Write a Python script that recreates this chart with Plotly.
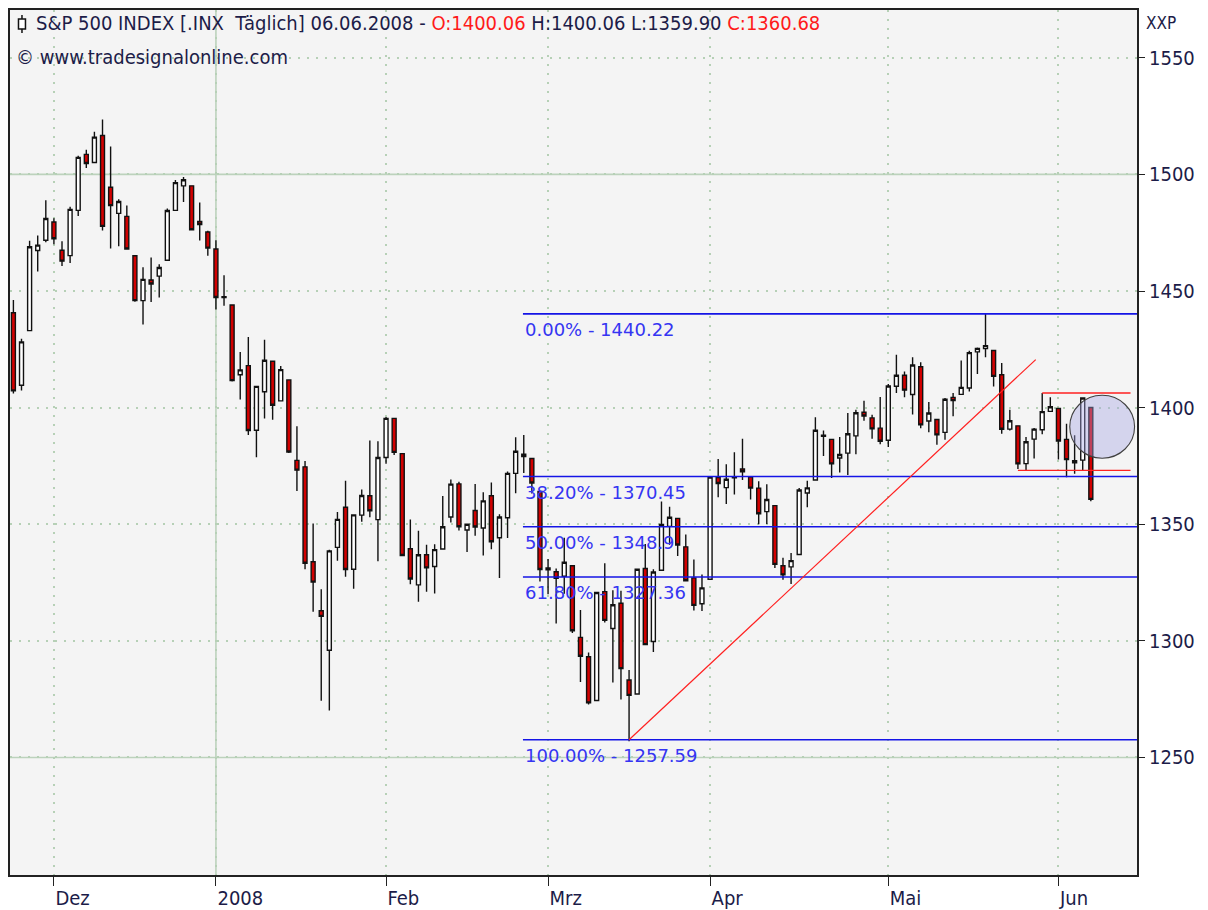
import plotly.graph_objects as go

# ---------------- data (S&P 500 daily) ----------------
dates = [
    "2007-11-26", "2007-11-27", "2007-11-28", "2007-11-29", "2007-11-30",
    "2007-12-03", "2007-12-04", "2007-12-05", "2007-12-06", "2007-12-07",
    "2007-12-10", "2007-12-11", "2007-12-12", "2007-12-13", "2007-12-14",
    "2007-12-17", "2007-12-18", "2007-12-19", "2007-12-20", "2007-12-21",
    "2007-12-24", "2007-12-26", "2007-12-27", "2007-12-28", "2007-12-31",
    "2008-01-02", "2008-01-03", "2008-01-04", "2008-01-07", "2008-01-08",
    "2008-01-09", "2008-01-10", "2008-01-11", "2008-01-14", "2008-01-15",
    "2008-01-16", "2008-01-17", "2008-01-18", "2008-01-22", "2008-01-23",
    "2008-01-24", "2008-01-25", "2008-01-28", "2008-01-29", "2008-01-30",
    "2008-01-31",
    "2008-02-01", "2008-02-04", "2008-02-05", "2008-02-06", "2008-02-07",
    "2008-02-08", "2008-02-11", "2008-02-12", "2008-02-13", "2008-02-14",
    "2008-02-15", "2008-02-19", "2008-02-20", "2008-02-21", "2008-02-22",
    "2008-02-25", "2008-02-26", "2008-02-27", "2008-02-28", "2008-02-29",
    "2008-03-03", "2008-03-04", "2008-03-05", "2008-03-06", "2008-03-07",
    "2008-03-10", "2008-03-11", "2008-03-12", "2008-03-13", "2008-03-14",
    "2008-03-17", "2008-03-18", "2008-03-19", "2008-03-20", "2008-03-24",
    "2008-03-25", "2008-03-26", "2008-03-27", "2008-03-28", "2008-03-31",
    "2008-04-01", "2008-04-02", "2008-04-03", "2008-04-04", "2008-04-07",
    "2008-04-08", "2008-04-09", "2008-04-10", "2008-04-11", "2008-04-14",
    "2008-04-15", "2008-04-16", "2008-04-17", "2008-04-18", "2008-04-21",
    "2008-04-22", "2008-04-23", "2008-04-24", "2008-04-25", "2008-04-28",
    "2008-04-29", "2008-04-30",
    "2008-05-01", "2008-05-02", "2008-05-05", "2008-05-06", "2008-05-07",
    "2008-05-08", "2008-05-09", "2008-05-12", "2008-05-13", "2008-05-14",
    "2008-05-15", "2008-05-16", "2008-05-19", "2008-05-20", "2008-05-21",
    "2008-05-22", "2008-05-23", "2008-05-27", "2008-05-28", "2008-05-29",
    "2008-05-30",
    "2008-06-02", "2008-06-03", "2008-06-04", "2008-06-05", "2008-06-06",
]

opens = [
    1440.7, 1409.6, 1433.0, 1467.4, 1471.8,
    1479.6, 1467.5, 1465.2, 1484.6, 1508.6,
    1505.1, 1516.7, 1494.5, 1483.3, 1482.0,
    1465.1, 1445.9, 1454.7, 1456.4, 1463.2,
    1484.6, 1495.1, 1495.1, 1479.8, 1475.3,
    1468.0, 1447.6, 1444.0, 1414.1, 1418.0,
    1390.3, 1406.8, 1419.9, 1402.9, 1411.9,
    1377.4, 1374.6, 1333.9, 1312.9, 1296.0,
    1340.1, 1357.3, 1330.7, 1353.9, 1362.2,
    1352.0,
    1378.6, 1395.4, 1380.3, 1339.5, 1324.0,
    1336.9, 1331.9, 1339.4, 1353.1, 1367.3,
    1347.5, 1355.9, 1348.4, 1362.2, 1344.2,
    1352.8, 1371.8, 1379.0, 1378.2, 1364.1,
    1330.5, 1329.6, 1327.7, 1332.2, 1301.5,
    1293.2, 1274.4, 1321.1, 1305.3, 1316.1,
    1283.2, 1277.2, 1331.0, 1299.7, 1330.3,
    1349.1, 1352.5, 1340.3, 1327.0, 1315.9,
    1326.4, 1370.0, 1365.7, 1369.9, 1373.7,
    1370.2, 1365.5, 1355.4, 1358.0, 1332.2,
    1331.7, 1337.0, 1363.4, 1369.0, 1387.7,
    1386.4, 1378.4, 1380.5, 1387.9, 1398.0,
    1395.6, 1391.2,
    1386.0, 1409.2, 1413.9, 1405.6, 1417.5,
    1394.3, 1394.9, 1389.4, 1404.4, 1405.7,
    1408.4, 1423.9, 1425.3, 1424.5, 1414.1,
    1390.8, 1392.2, 1376.0, 1386.5, 1390.5,
    1398.4,
    1399.6, 1386.4, 1376.3, 1377.5, 1400.06,
]

highs = [
    1446.1, 1429.5, 1471.6, 1473.8, 1488.9,
    1481.2, 1471.3, 1486.1, 1508.0, 1510.6,
    1518.3, 1523.6, 1512.0, 1489.4, 1486.7,
    1465.1, 1460.2, 1464.4, 1461.5, 1485.4,
    1497.6, 1498.9, 1495.1, 1488.0, 1475.8,
    1471.8, 1456.8, 1444.0, 1423.9, 1430.3,
    1409.2, 1429.1, 1419.9, 1417.9, 1411.9,
    1392.0, 1377.1, 1350.3, 1322.1, 1339.1,
    1355.2, 1368.6, 1354.0, 1364.9, 1385.9,
    1385.6,
    1396.0, 1395.4, 1380.3, 1352.0, 1347.2,
    1341.2, 1341.4, 1362.1, 1369.2, 1368.2,
    1350.0, 1367.3, 1363.7, 1367.9, 1354.3,
    1372.6, 1387.3, 1388.3, 1378.2, 1364.1,
    1335.1, 1331.0, 1344.2, 1332.2, 1313.2,
    1295.0, 1320.7, 1333.3, 1321.7, 1321.5,
    1287.5, 1330.7, 1341.5, 1330.7, 1359.7,
    1357.5, 1352.5, 1345.6, 1334.9, 1328.5,
    1370.2, 1378.0, 1375.7, 1380.9, 1386.7,
    1370.2, 1368.4, 1367.2, 1358.0, 1335.6,
    1337.7, 1365.5, 1368.6, 1395.9, 1390.2,
    1386.4, 1387.4, 1397.7, 1399.1, 1402.9,
    1397.0, 1404.6,
    1410.1, 1422.7, 1415.5, 1421.6, 1419.5,
    1402.4, 1394.9, 1404.1, 1406.3, 1420.2,
    1424.4, 1425.8, 1440.2, 1424.5, 1419.1,
    1399.1, 1392.2, 1387.4, 1391.3, 1406.3,
    1404.5,
    1399.6, 1393.1, 1388.2, 1404.1, 1400.06,
]

lows = [
    1406.1, 1407.4, 1433.0, 1458.4, 1470.9,
    1470.1, 1460.7, 1462.0, 1482.2, 1502.7,
    1505.0, 1476.0, 1468.2, 1469.2, 1467.8,
    1445.4, 1435.7, 1445.3, 1447.2, 1463.2,
    1484.6, 1488.2, 1475.9, 1471.7, 1465.1,
    1442.1, 1443.7, 1411.2, 1403.5, 1388.3,
    1378.7, 1395.3, 1394.8, 1402.9, 1380.6,
    1364.3, 1330.7, 1312.5, 1274.3, 1270.1,
    1334.3, 1327.5, 1322.3, 1351.1, 1353.0,
    1334.1,
    1375.9, 1379.7, 1336.6, 1324.3, 1316.8,
    1321.1, 1320.3, 1339.4, 1350.8, 1347.3,
    1338.1, 1345.1, 1336.6, 1339.3, 1327.0,
    1344.1, 1363.3, 1372.0, 1363.2, 1325.4,
    1320.0, 1307.4, 1320.2, 1303.4, 1282.4,
    1272.7, 1274.4, 1307.9, 1282.1, 1274.9,
    1257.0, 1277.2, 1298.4, 1295.2, 1330.3,
    1341.2, 1336.4, 1325.7, 1313.0, 1312.8,
    1326.4, 1361.6, 1358.7, 1362.8, 1369.0,
    1360.6, 1350.0, 1350.1, 1331.2, 1326.2,
    1324.4, 1337.0, 1357.3, 1369.0, 1379.3,
    1369.8, 1372.2, 1371.1, 1380.0, 1394.4,
    1386.7, 1384.3,
    1383.1, 1406.3, 1404.4, 1397.1, 1391.2,
    1389.4, 1384.1, 1386.2, 1396.3, 1405.7,
    1406.9, 1414.4, 1421.6, 1409.1, 1388.8,
    1390.2, 1373.7, 1373.1, 1378.2, 1388.6,
    1398.1,
    1377.8, 1370.1, 1371.7, 1373.1, 1359.90,
]

closes = [
    1407.2, 1428.2, 1469.0, 1469.7, 1481.1,
    1472.4, 1462.8, 1485.0, 1507.3, 1504.7,
    1516.0, 1477.7, 1486.6, 1488.4, 1468.0,
    1445.9, 1455.0, 1453.0, 1460.1, 1484.5,
    1496.5, 1497.7, 1476.3, 1478.5, 1468.4,
    1447.2, 1447.2, 1411.6, 1416.2, 1390.2,
    1409.1, 1420.3, 1401.0, 1416.3, 1381.0,
    1373.2, 1333.3, 1325.2, 1310.5, 1338.6,
    1352.1, 1330.6, 1354.0, 1362.3, 1355.8,
    1378.6,
    1395.4, 1380.8, 1336.6, 1326.5, 1336.9,
    1331.3, 1339.1, 1348.9, 1367.2, 1348.9,
    1350.0, 1348.8, 1360.0, 1342.5, 1353.1,
    1371.8, 1381.3, 1380.0, 1367.7, 1330.6,
    1331.3, 1326.8, 1333.7, 1304.3, 1293.4,
    1273.4, 1320.7, 1308.8, 1315.5, 1288.1,
    1276.6, 1330.7, 1298.4, 1329.5, 1349.9,
    1353.0, 1341.1, 1325.8, 1315.2, 1322.7,
    1370.2, 1367.5, 1369.3, 1370.4, 1372.5,
    1365.5, 1354.5, 1360.6, 1332.8, 1328.3,
    1334.4, 1364.7, 1365.6, 1390.3, 1388.2,
    1375.9, 1379.9, 1388.8, 1397.8, 1396.4,
    1390.9, 1385.6,
    1409.3, 1413.9, 1407.5, 1418.3, 1392.6,
    1397.7, 1388.3, 1403.6, 1403.0, 1408.7,
    1423.6, 1425.4, 1426.6, 1413.4, 1390.7,
    1394.4, 1375.9, 1385.4, 1390.8, 1398.3,
    1400.4,
    1385.7, 1377.7, 1377.2, 1404.1, 1360.68,
]

month_starts = ["2007-12-03", "2008-01-02", "2008-02-01", "2008-03-03",
                "2008-04-01", "2008-05-01", "2008-06-02"]
month_labels = ["Dez", "2008", "Feb", "Mrz", "Apr", "Mai", "Jun"]

y_ticks = [1250, 1300, 1350, 1400, 1450, 1500, 1550]
y_solid_grid = [1500, 1250]
year_start = "2008-01-02"

fib_start_date = "2008-02-27"
fib_pcts = ["0.00%", "38.20%", "50.00%", "61.80%", "100.00%"]
fib_values = [1440.22, 1370.45, 1348.9, 1327.36, 1257.59]
fib_texts = ["1440.22", "1370.45", "1348.9", "1327.36", "1257.59"]

# drawing tools (positions in trading-day index / price)
trend_x = [76.0, 126.2]
trend_y = [1257.59, 1420.6]
range_top = [127.0, 137.9, 1406.3]
range_bottom = [124.0, 137.9, 1373.1]
circle_box = [130.4, 138.4, 1378.3, 1405.3]

# ---------------- figure ----------------
FONT = "Tahoma, 'DejaVu Sans Condensed', 'Liberation Sans', Arial, sans-serif"
FIB_FONT = "Verdana, 'DejaVu Sans', sans-serif"
TXT = "#1c1c48"
GRID = "#b6d0b6"

idx = list(range(len(dates)))
tick_idx = [dates.index(d) for d in month_starts]
x_min, x_max = -0.42, 138.7
y_min, y_max = 1199.6, 1570.5

fig = go.Figure()
fig.add_trace(go.Candlestick(
    x=idx, open=opens, high=highs, low=lows, close=closes,
    increasing=dict(fillcolor="#ffffff", line=dict(color="#111111", width=1.4)),
    decreasing=dict(fillcolor="#d20000", line=dict(color="#111111", width=1.4)),
    whiskerwidth=0, hoverinfo="skip", showlegend=False,
))

shapes = []
# solid grid lines
for v in y_solid_grid:
    shapes.append(dict(type="line", xref="x", yref="y", x0=x_min, x1=x_max, y0=v, y1=v,
                       line=dict(color="#bcd2bc", width=1.6), layer="below"))
yi = dates.index(year_start)
shapes.append(dict(type="line", xref="x", yref="y", x0=yi, x1=yi, y0=y_min, y1=y_max,
                   line=dict(color="#bcd2bc", width=1.6), layer="below"))

# fibonacci lines
fs = dates.index(fib_start_date) - 0.1
for v in fib_values:
    shapes.append(dict(type="line", xref="x", yref="y", x0=fs, x1=x_max, y0=v, y1=v,
                       line=dict(color="#1414e6", width=1.6)))

# red trend line and range lines
shapes.append(dict(type="line", xref="x", yref="y", x0=trend_x[0], x1=trend_x[1],
                   y0=trend_y[0], y1=trend_y[1], line=dict(color="#ff2020", width=1.2)))
for r in (range_top, range_bottom):
    shapes.append(dict(type="line", xref="x", yref="y", x0=r[0], x1=r[1], y0=r[2], y1=r[2],
                       line=dict(color="#ff2020", width=1.4)))

# circle highlight
shapes.append(dict(type="circle", xref="x", yref="y",
                   x0=circle_box[0], x1=circle_box[1], y0=circle_box[2], y1=circle_box[3],
                   fillcolor="rgba(165,165,228,0.40)",
                   line=dict(color="#404040", width=1.1)))

# candle icon in header (pixel based decoration, page pixels)
def px(xp):
    return (xp - 8) / (1137 - 8)

def py(yp):
    return (877 - yp) / (877 - 8)

shapes.append(dict(type="line", xref="paper", yref="paper", x0=px(20), x1=px(20),
                   y0=py(13), y1=py(31), line=dict(color="#111111", width=1.5)))
shapes.append(dict(type="rect", xref="paper", yref="paper", x0=px(16.5), x1=px(23.5),
                   y0=py(17), y1=py(27), fillcolor="#ffffff",
                   line=dict(color="#111111", width=1.5)))

annotations = []
# fibonacci labels
for p, t, v in zip(fib_pcts, fib_texts, fib_values):
    annotations.append(dict(x=fs, y=v, xref="x", yref="y", text=f"{p} - {t}",
                            showarrow=False, xanchor="left", yanchor="top", yshift=-3,
                            xshift=0, font=dict(family=FIB_FONT, size=18, color="#3535f2")))

head = (f"S&P 500 INDEX [.INX\u00a0\u00a0Täglich] 06.06.2008 - "
        f"<span style='color:#ff1a1a'>O:{opens[-1]:.2f}</span> "
        f"H:{highs[-1]:.2f} L:{lows[-1]:.2f} "
        f"<span style='color:#ff1a1a'>C:{closes[-1]:.2f}</span>")
annotations.append(dict(x=px(32), y=py(21), xref="paper", yref="paper", text=head,
                        showarrow=False, xanchor="left", yanchor="middle",
                        font=dict(family=FONT, size=20, color=TXT)))
annotations.append(dict(x=px(12), y=py(55), xref="paper", yref="paper",
                        text="© www.tradesignalonline.com",
                        showarrow=False, xanchor="left", yanchor="middle",
                        font=dict(family=FONT, size=20, color=TXT)))
annotations.append(dict(x=px(1144), y=py(21), xref="paper", yref="paper", text="XXP",
                        showarrow=False, xanchor="left", yanchor="middle",
                        font=dict(family=FONT, size=17, color=TXT)))

# the page body has an 8px margin, so the figure origin sits at page (8, 8)
fig.update_layout(
    width=1200, height=902, autosize=False,
    margin=dict(l=0, r=71, t=0, b=33, pad=0),
    paper_bgcolor="#ffffff", plot_bgcolor="#f4f4f4",
    showlegend=False, hovermode=False,
    shapes=shapes, annotations=annotations,
    xaxis=dict(
        range=[x_min, x_max], rangeslider=dict(visible=False),
        tickmode="array", tickvals=tick_idx, ticktext=month_labels,
        ticks="outside", ticklen=9, tickwidth=1, tickcolor="#222222",
        ticklabelposition="outside right", ticklabelstandoff=4,
        tickfont=dict(family=FONT, size=20, color=TXT),
        showgrid=True, gridcolor=GRID, gridwidth=1.5, griddash="2px,7px",
        showline=True, linecolor="#222222", linewidth=2, mirror=True,
        zeroline=False, fixedrange=True,
    ),
    yaxis=dict(
        range=[y_min, y_max], side="right",
        tickmode="array", tickvals=y_ticks,
        ticks="outside", ticklen=6, tickwidth=1, tickcolor="#222222",
        tickfont=dict(family=FONT, size=20, color=TXT),
        showgrid=True, gridcolor=GRID, gridwidth=1.5, griddash="2px,7px",
        showline=True, linecolor="#222222", linewidth=2, mirror=True,
        zeroline=False, fixedrange=True,
    ),
)

fig.write_html("out.html")
